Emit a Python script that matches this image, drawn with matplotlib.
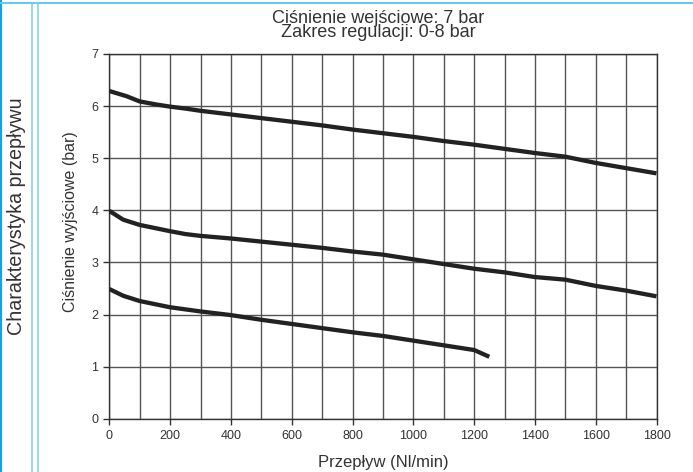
import matplotlib
matplotlib.use("Agg")
import matplotlib.pyplot as plt
from matplotlib.lines import Line2D
from matplotlib.ticker import MultipleLocator

plt.rcParams['font.family'] = ['Liberation Sans', 'DejaVu Sans']

# Data (flow in Nl/min, outlet pressure in bar)
flow_upper = [0, 57, 100, 156, 200, 254, 300, 400, 500, 600, 700, 800, 900, 1000,
              1100, 1200, 1300, 1400, 1500, 1600, 1700, 1800]
p_upper = [6.29, 6.19, 6.09, 6.03, 5.99, 5.95, 5.91, 5.84, 5.77, 5.70, 5.63, 5.55,
           5.48, 5.41, 5.33, 5.26, 5.18, 5.10, 5.03, 4.91, 4.81, 4.71]

flow_mid = [0, 46, 100, 200, 250, 300, 400, 500, 600, 700, 800, 900, 1000,
            1100, 1200, 1300, 1400, 1500, 1600, 1700, 1800]
p_mid = [3.99, 3.82, 3.72, 3.60, 3.545, 3.51, 3.46, 3.40, 3.34, 3.28, 3.21, 3.15,
         3.06, 2.97, 2.88, 2.81, 2.72, 2.67, 2.55, 2.46, 2.35]

flow_low = [0, 46, 100, 200, 300, 400, 500, 600, 700, 800, 900, 1000, 1100, 1200, 1250]
p_low = [2.49, 2.36, 2.26, 2.14, 2.06, 1.99, 1.90, 1.82, 1.74, 1.66, 1.59, 1.50,
         1.41, 1.32, 1.19]

title_lines = ["Ciśnienie wejściowe: 7 bar", "Zakres regulacji: 0-8 bar"]
xlabel = "Przepływ (Nl/min)"
ylabel = "Ciśnienie wyjściowe (bar)"
side_label = "Charakterystyka przepływu"

W, H = 693, 472
fig = plt.figure(figsize=(W / 100, H / 100), dpi=100)
ax = fig.add_axes([109.3 / W, 1 - 418.8 / H, (656.5 - 109.3) / W, (418.8 - 54) / H])

txt = '#333333'
grid_c = '#555555'

for fx, py in ((flow_upper, p_upper), (flow_mid, p_mid), (flow_low, p_low)):
    ax.plot(fx, py, color='#222222', lw=3.1, solid_capstyle='butt',
            solid_joinstyle='round', zorder=3)

ax.set_xlim(0, 1800)
ax.set_ylim(0, 7)
ax.xaxis.set_major_locator(MultipleLocator(200))
ax.xaxis.set_minor_locator(MultipleLocator(100))
ax.yaxis.set_major_locator(MultipleLocator(1))
ax.grid(True, which='both', axis='x', color=grid_c, lw=1.0)
ax.grid(True, which='major', axis='y', color=grid_c, lw=1.0)
ax.set_axisbelow(True)
ax.tick_params(axis='both', which='major', direction='out', length=4, width=1,
               color='#333333', labelcolor=txt, labelsize=9, pad=4)
ax.tick_params(axis='x', which='minor', length=0)
for s in ax.spines.values():
    s.set_color('#333333')
    s.set_linewidth(1.0)

# titles / labels
fig.text(378 / W, 1 - 25.5 / H, "\n".join(title_lines), ha='center', va='center',
         fontsize=13, color=txt, linespacing=0.82, multialignment='center')
fig.text(383 / W, 1 - 462 / H, xlabel, ha='center', va='center', fontsize=12, color=txt)
fig.text(70 / W, 1 - 222 / H, ylabel, ha='center', va='center', rotation=90,
         fontsize=11.5, color=txt)
fig.text(17 / W, 1 - 216 / H, side_label, ha='center', va='center', rotation=90,
         fontsize=14.2, color=txt)

# decorative blue frame lines
fig.add_artist(Line2D([1 / W, 1 / W], [0, 1], color='#1a9fe0', lw=1.6,
                      transform=fig.transFigure))
fig.add_artist(Line2D([0, 1], [1 - 2.8 / H, 1 - 2.8 / H], color='#6cc6ef', lw=1.5,
                      transform=fig.transFigure))
for xp in (31.7, 37.7):
    fig.add_artist(Line2D([xp / W, xp / W], [0, 1 - 2.8 / H], color='#7ccdf1', lw=1.1,
                          transform=fig.transFigure))

fig.savefig('out.png', dpi=100)
